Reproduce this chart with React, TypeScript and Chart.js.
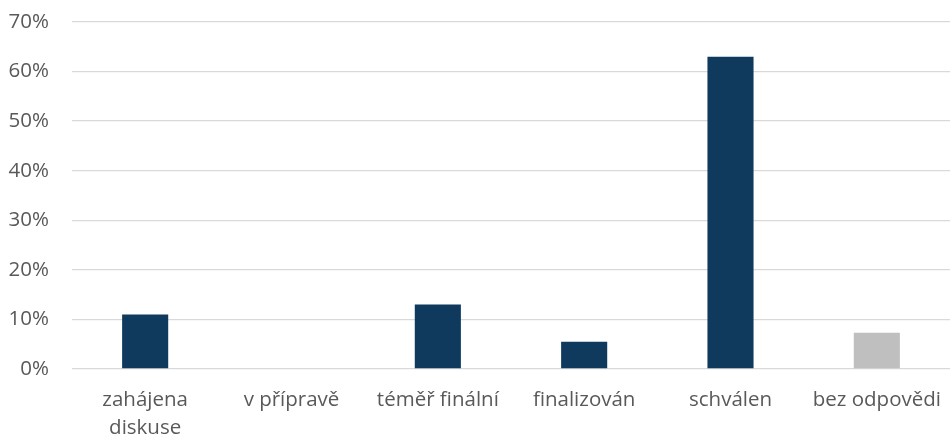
import React, { useEffect, useRef } from "react";
import { Chart, registerables } from "chart.js";

Chart.register(...registerables);

const categories: (string | string[])[] = [
  ["zahájena", "diskuse"],
  "v přípravě",
  "téměř finální",
  "finalizován",
  "schválen",
  "bez odpovědi",
];
const values = [11, 0, 13, 5.5, 63, 7.3];
const barColors = ["#0F3A5D", "#0F3A5D", "#0F3A5D", "#0F3A5D", "#0F3A5D", "#BFBFBF"];
const yTicks = [0, 10, 20, 30, 40, 50, 60, 70];

export default function App() {
  const ref = useRef<HTMLCanvasElement | null>(null);

  useEffect(() => {
    if (!ref.current) return;
    const font = { family: "'Open Sans', sans-serif", size: 20.5 };
    const chart = new Chart(ref.current, {
      type: "bar",
      data: {
        labels: categories,
        datasets: [
          {
            data: values,
            backgroundColor: barColors,
            borderWidth: 0,
            categoryPercentage: 1,
            barPercentage: 0.315,
          },
        ],
      },
      options: {
        animation: false,
        responsive: true,
        maintainAspectRatio: false,
        layout: { padding: { top: 22, right: -3, left: 0, bottom: 0 } },
        plugins: {
          legend: { display: false },
          tooltip: { enabled: false },
        },
        scales: {
          x: {
            grid: {
              display: true,
              color: "rgba(0,0,0,0)",
              tickColor: "rgba(0,0,0,0)",
              drawTicks: true,
              tickLength: 17,
            },
            border: { display: false },
            ticks: {
              color: "#595959",
              font: { ...font, lineHeight: 1.38 },
              padding: 0,
              maxRotation: 0,
              autoSkip: false,
            },
            afterFit: (scale: any) => {
              scale.height = 68;
            },
          },
          y: {
            min: 0,
            max: 70,
            afterBuildTicks: (scale: any) => {
              scale.ticks = yTicks.map((v) => ({ value: v }));
            },
            grid: {
              color: "#D9D9D9",
              lineWidth: 1.3,
              drawTicks: true,
              tickLength: 23,
              tickColor: "rgba(0,0,0,0)",
            },
            border: { display: false },
            ticks: {
              color: "#595959",
              font,
              padding: 0,
              callback: (v: any) => `${v}%`,
            },
            afterFit: (scale: any) => {
              scale.width = 72;
            },
          },
        },
      },
    });
    return () => chart.destroy();
  }, []);

  return (
    <div
      style={{
        position: "fixed",
        left: 0,
        top: 0,
        width: 950,
        height: 437,
        background: "#fff",
      }}
    >
      <canvas ref={ref} />
    </div>
  );
}
